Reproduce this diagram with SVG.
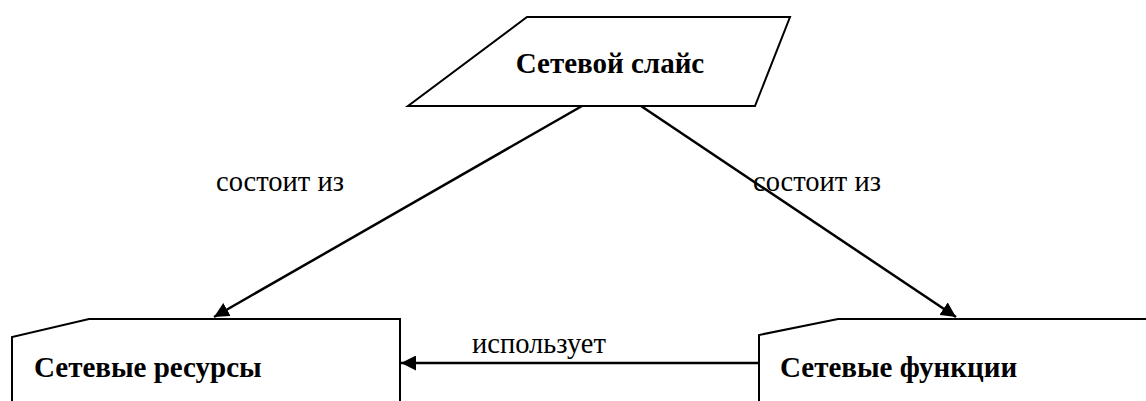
<svg xmlns="http://www.w3.org/2000/svg" width="1146" height="401" viewBox="0 0 1146 401">
<style>
.shape{fill:#fff;stroke:#000;stroke-width:2}
.conn{stroke:#000;stroke-width:2.5;fill:none}
.title{font-family:"Liberation Serif","Times New Roman",serif;font-weight:bold;font-size:29px;fill:#000}
.lbl{font-family:"Liberation Serif","Times New Roman",serif;font-size:28.5px;fill:#000}
</style>
<defs>
<marker id="ah" viewBox="0 0 10 10" refX="10" refY="5" markerWidth="6" markerHeight="6" markerUnits="strokeWidth" orient="auto">
<path d="M0,0 L10,5 L0,10 z" fill="#000"/>
</marker>
</defs>
<g id="slice">
<path class="shape" d="M527,17 L790,17 L755,106 L408,106 Z"/>
<text class="title" x="610" y="73" text-anchor="middle">Сетевой слайс</text>
</g>
<g id="resources">
<path class="shape" d="M12,401 L12,337 L89,319 L400,319 L400,401"/>
<text class="title" x="34" y="377">Сетевые ресурсы</text>
</g>
<g id="functions">
<path class="shape" d="M759,401 L759,335 L838,319 L1150,319"/>
<text class="title" x="780" y="377">Сетевые функции</text>
</g>
<g id="connectors">
<line class="conn" x1="582" y1="106" x2="214" y2="317" marker-end="url(#ah)"/>
<line class="conn" x1="641" y1="106" x2="956" y2="317" marker-end="url(#ah)"/>
<line class="conn" x1="759" y1="363" x2="401" y2="363" marker-end="url(#ah)"/>
<text class="lbl" x="216" y="191">состоит из</text>
<text class="lbl" x="753" y="191">состоит из</text>
<text class="lbl" x="472" y="353">использует</text>
</g>
</svg>
